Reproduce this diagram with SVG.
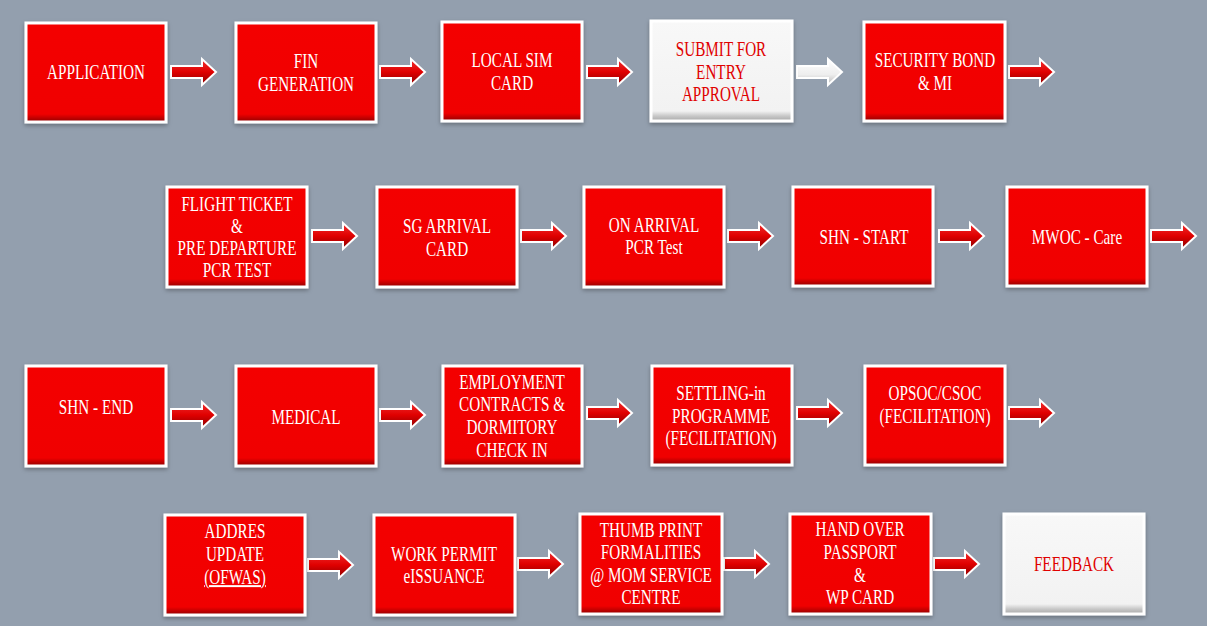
<svg xmlns="http://www.w3.org/2000/svg" width="1207" height="626" viewBox="0 0 1207 626">
<style>
.bg{fill:#939fae}
.rb{fill:url(#gRed);stroke:#ffffff;stroke-width:3}
.wb{fill:url(#gWhite);stroke:#ffffff;stroke-width:3}
text{font-family:"Liberation Serif","DejaVu Serif",serif;font-size:20px;text-anchor:middle}
.tw{fill:#ffffff}
.tr{fill:#e00000}
.ar{fill:url(#gArrow);stroke:#ffffff;stroke-width:2;stroke-linejoin:miter}
.aw{fill:url(#gArrowW);stroke:#ffffff;stroke-width:2}
</style>
<defs>
<linearGradient id="gRed" x1="0" y1="0" x2="0" y2="1">
<stop offset="0" stop-color="#f40000"/>
<stop offset="0.92" stop-color="#f00000"/>
<stop offset="0.96" stop-color="#c20000"/>
<stop offset="1" stop-color="#8c0000"/>
</linearGradient>
<linearGradient id="gWhite" x1="0" y1="0" x2="0" y2="1">
<stop offset="0" stop-color="#f8f8f8"/>
<stop offset="0.9" stop-color="#f2f2f2"/>
<stop offset="0.95" stop-color="#c8c8c8"/>
<stop offset="1" stop-color="#a8a8a8"/>
</linearGradient>
<linearGradient id="gArrow" x1="0" y1="0" x2="0" y2="1">
<stop offset="0" stop-color="#f03030"/>
<stop offset="0.5" stop-color="#e00000"/>
<stop offset="1" stop-color="#8a0000"/>
</linearGradient>
<linearGradient id="gArrowW" x1="0" y1="0" x2="0" y2="1">
<stop offset="0" stop-color="#ffffff"/>
<stop offset="0.6" stop-color="#eeeeee"/>
<stop offset="1" stop-color="#b8b8b8"/>
</linearGradient>
<filter id="sh" x="-10%" y="-10%" width="120%" height="130%">
<feDropShadow dx="0" dy="2" stdDeviation="2" flood-color="#000000" flood-opacity="0.3"/>
</filter>
<path id="arr" d="M0,-6 H31 V-13 L45,0 L31,13 V6 H0 Z"/>
</defs>
<rect class="bg" x="0" y="0" width="1207" height="626"/>

<g id="connectors">
<use href="#arr" class="ar" transform="translate(171,72)"/>
<use href="#arr" class="ar" transform="translate(380,72)"/>
<use href="#arr" class="ar" transform="translate(587,72)"/>
<use href="#arr" class="aw" transform="translate(797,72)"/>
<use href="#arr" class="ar" transform="translate(1009,72)"/>
<use href="#arr" class="ar" transform="translate(312,236)"/>
<use href="#arr" class="ar" transform="translate(521,236)"/>
<use href="#arr" class="ar" transform="translate(728,236)"/>
<use href="#arr" class="ar" transform="translate(939,236)"/>
<use href="#arr" class="ar" transform="translate(1151,236)"/>
<use href="#arr" class="ar" transform="translate(171,415)"/>
<use href="#arr" class="ar" transform="translate(380,415)"/>
<use href="#arr" class="ar" transform="translate(587,413)"/>
<use href="#arr" class="ar" transform="translate(797,413)"/>
<use href="#arr" class="ar" transform="translate(1009,413)"/>
<use href="#arr" class="ar" transform="translate(308,565)"/>
<use href="#arr" class="ar" transform="translate(518,564)"/>
<use href="#arr" class="ar" transform="translate(724,564)"/>
<use href="#arr" class="ar" transform="translate(934,564)"/>
</g>

<g id="n1"><rect class="rb" filter="url(#sh)" x="26" y="23" width="140" height="99"/>
<text class="tw" transform="matrix(0.76 0 0 1 96 0)"><tspan x="0" y="79">APPLICATION</tspan></text></g>
<g id="n2"><rect class="rb" filter="url(#sh)" x="236" y="23" width="140" height="99"/>
<text class="tw" transform="matrix(0.76 0 0 1 306 0)"><tspan x="0" y="68">FIN</tspan><tspan x="0" y="91">GENERATION</tspan></text></g>
<g id="n3"><rect class="rb" filter="url(#sh)" x="442" y="22" width="140" height="99"/>
<text class="tw" transform="matrix(0.76 0 0 1 512 0)"><tspan x="0" y="67">LOCAL SIM</tspan><tspan x="0" y="90">CARD</tspan></text></g>
<g id="n4"><rect class="wb" filter="url(#sh)" x="651" y="21" width="141" height="100"/>
<text class="tr" transform="matrix(0.76 0 0 1 721 0)"><tspan x="0" y="56">SUBMIT FOR</tspan><tspan x="0" y="79">ENTRY</tspan><tspan x="0" y="101">APPROVAL</tspan></text></g>
<g id="n5"><rect class="rb" filter="url(#sh)" x="864" y="22" width="141" height="99"/>
<text class="tw" transform="matrix(0.76 0 0 1 935 0)"><tspan x="0" y="67">SECURITY BOND</tspan><tspan x="0" y="90">&amp; MI</tspan></text></g>

<g id="n6"><rect class="rb" filter="url(#sh)" x="167" y="187" width="140" height="100"/>
<text class="tw" transform="matrix(0.76 0 0 1 237 0)"><tspan x="0" y="211">FLIGHT TICKET</tspan><tspan x="0" y="233">&amp;</tspan><tspan x="0" y="255">PRE DEPARTURE</tspan><tspan x="0" y="277">PCR TEST</tspan></text></g>
<g id="n7"><rect class="rb" filter="url(#sh)" x="377" y="187" width="140" height="100"/>
<text class="tw" transform="matrix(0.76 0 0 1 447 0)"><tspan x="0" y="233">SG ARRIVAL</tspan><tspan x="0" y="256">CARD</tspan></text></g>
<g id="n8"><rect class="rb" filter="url(#sh)" x="584" y="187" width="140" height="100"/>
<text class="tw" transform="matrix(0.76 0 0 1 654 0)"><tspan x="0" y="232">ON ARRIVAL</tspan><tspan x="0" y="254">PCR Test</tspan></text></g>
<g id="n9"><rect class="rb" filter="url(#sh)" x="793" y="187" width="140" height="99"/>
<text class="tw" transform="matrix(0.76 0 0 1 864 0)"><tspan x="0" y="244">SHN - START</tspan></text></g>
<g id="n10"><rect class="rb" filter="url(#sh)" x="1007" y="187" width="140" height="99"/>
<text class="tw" transform="matrix(0.76 0 0 1 1077 0)"><tspan x="0" y="244">MWOC - Care</tspan></text></g>

<g id="n11"><rect class="rb" filter="url(#sh)" x="26" y="366" width="140" height="100"/>
<text class="tw" transform="matrix(0.76 0 0 1 96 0)"><tspan x="0" y="414">SHN - END</tspan></text></g>
<g id="n12"><rect class="rb" filter="url(#sh)" x="236" y="366" width="140" height="100"/>
<text class="tw" transform="matrix(0.76 0 0 1 306 0)"><tspan x="0" y="424">MEDICAL</tspan></text></g>
<g id="n13"><rect class="rb" filter="url(#sh)" x="443" y="366" width="139" height="100"/>
<text class="tw" transform="matrix(0.76 0 0 1 512 0)"><tspan x="0" y="389">EMPLOYMENT</tspan><tspan x="0" y="411">CONTRACTS &amp;</tspan><tspan x="0" y="434">DORMITORY</tspan><tspan x="0" y="457">CHECK IN</tspan></text></g>
<g id="n14"><rect class="rb" filter="url(#sh)" x="652" y="366" width="140" height="99"/>
<text class="tw" transform="matrix(0.76 0 0 1 721 0)"><tspan x="0" y="400">SETTLING-in</tspan><tspan x="0" y="423">PROGRAMME</tspan><tspan x="0" y="445">(FECILITATION)</tspan></text></g>
<g id="n15"><rect class="rb" filter="url(#sh)" x="865" y="366" width="140" height="99"/>
<text class="tw" transform="matrix(0.76 0 0 1 935 0)"><tspan x="0" y="400">OPSOC/CSOC</tspan><tspan x="0" y="423">(FECILITATION)</tspan></text></g>

<g id="n16"><rect class="rb" filter="url(#sh)" x="165" y="515" width="140" height="100"/>
<text class="tw" transform="matrix(0.76 0 0 1 235 0)"><tspan x="0" y="538">ADDRES</tspan><tspan x="0" y="561">UPDATE</tspan><tspan x="0" y="584" text-decoration="underline">(OFWAS)</tspan></text></g>
<g id="n17"><rect class="rb" filter="url(#sh)" x="374" y="515" width="141" height="100"/>
<text class="tw" transform="matrix(0.76 0 0 1 444 0)"><tspan x="0" y="561">WORK PERMIT</tspan><tspan x="0" y="583">eISSUANCE</tspan></text></g>
<g id="n18"><rect class="rb" filter="url(#sh)" x="580" y="514" width="142" height="100"/>
<text class="tw" transform="matrix(0.76 0 0 1 651 0)"><tspan x="0" y="537">THUMB PRINT</tspan><tspan x="0" y="559">FORMALITIES</tspan><tspan x="0" y="582">@ MOM SERVICE</tspan><tspan x="0" y="604">CENTRE</tspan></text></g>
<g id="n19"><rect class="rb" filter="url(#sh)" x="790" y="514" width="141" height="100"/>
<text class="tw" transform="matrix(0.76 0 0 1 860 0)"><tspan x="0" y="536">HAND OVER</tspan><tspan x="0" y="559">PASSPORT</tspan><tspan x="0" y="582">&amp;</tspan><tspan x="0" y="604">WP CARD</tspan></text></g>
<g id="n20"><rect class="wb" filter="url(#sh)" x="1004" y="514" width="140" height="100"/>
<text class="tr" transform="matrix(0.76 0 0 1 1074 0)"><tspan x="0" y="571">FEEDBACK</tspan></text></g>
</svg>
